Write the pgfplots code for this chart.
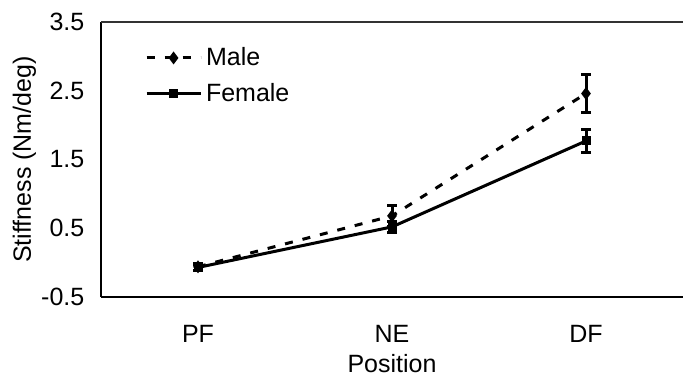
\documentclass[border=0pt]{standalone}
\usepackage{pgfplots}
\pgfplotsset{compat=1.18}
\usepackage{fontspec}
\setmainfont{Liberation Sans}
\begin{document}
\fontsize{12.5}{14}\selectfont
\begin{tikzpicture}
\begin{axis}[
  name=ax,
  scale only axis,
  width=291pt, height=137.5pt,
  xmin=-0.5, xmax=2.5, ymin=-0.5, ymax=3.5,
  axis x line*=bottom, axis y line*=left,
  axis line style={line width=0.9pt, -},
  xtick={0,1,2}, xticklabels={PF,NE,DF},
  ytick={-0.5,0.5,1.5,2.5,3.5},
  yticklabels={-0.5,0.5,1.5,2.5,3.5},
  major tick length=0pt,
  tick style={draw=none},
  ticklabel style={font=\fontsize{12.5}{14}\selectfont},
  label style={font=\fontsize{12.5}{14}\selectfont},
  yticklabel style={xshift=-4pt},
  xticklabel style={yshift=-10pt},
  xlabel={Position}, ylabel={Stiffness (Nm/deg)},
  xlabel style={yshift=3pt},
  ylabel style={yshift=-6pt},
  legend style={at={(axis description cs:0.075,0.925)}, anchor=north west, draw=none, fill=none, inner sep=0pt, row sep=3pt, legend cell align=left, font=\fontsize{12.5}{14}\selectfont},
  legend image code/.code={\draw[mark repeat=2,mark phase=2,#1] plot coordinates {(0pt,0pt)(13.5pt,0pt)(27pt,0pt)};},
  clip=false,
]
\addplot[black, line width=1.5pt, dash pattern=on 4pt off 5pt, mark=diamond*, mark size=2pt, mark options={solid},
  error bars/.cd, y dir=both, y explicit, error bar style={line width=1.5pt, solid}, error mark options={rotate=90, mark size=2.5pt, line width=1.5pt, solid}]
  coordinates {(0,-0.06) +- (0,0.05) (1,0.68) +- (0,0.15) (2,2.46) +- (0,0.27)};
\addlegendentry{Male}
\addplot[black, line width=1.5pt, mark=square*, mark size=1.5pt,
  error bars/.cd, y dir=both, y explicit, error bar style={line width=1.5pt}, error mark options={rotate=90, mark size=2.5pt, line width=1.5pt}]
  coordinates {(0,-0.07) +- (0,0.05) (1,0.52) +- (0,0.08) (2,1.77) +- (0,0.17)};
\addlegendentry{Female}
\end{axis}
\draw[line width=0.6pt, black!80] (ax.north west) -- (ax.north east);
\pgfresetboundingbox
\path[use as bounding box] ([xshift=-50.5pt,yshift=-39.5pt]ax.south west) rectangle ([xshift=0.5pt,yshift=11pt]ax.north east);
\end{tikzpicture}
\end{document}
